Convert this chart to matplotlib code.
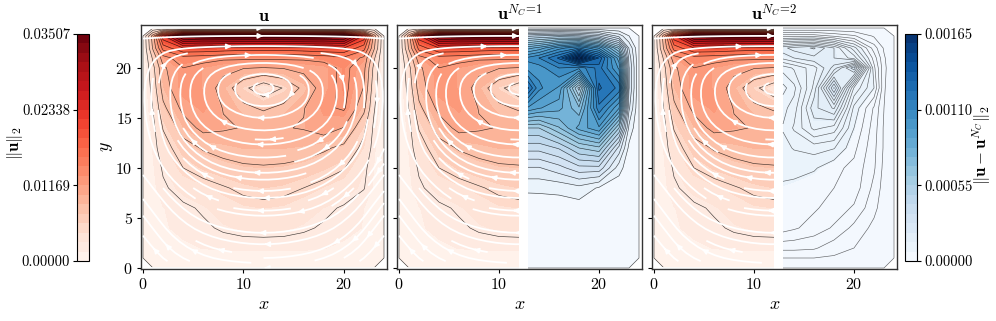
import matplotlib
matplotlib.use('Agg')
import matplotlib.pyplot as plt
from matplotlib.patches import Rectangle
import numpy as np

plt.rcParams['mathtext.fontset'] = 'cm'
plt.rcParams['font.family'] = ['cmr10', 'DejaVu Serif']
plt.rcParams['axes.formatter.use_mathtext'] = True

nan = np.nan

# grid of the magnitude / error fields
x_nodes = [0, 1, 2, 4, 6, 8, 10, 12, 14, 16, 18, 20, 22, 23, 24]
x_err = [12.9, 14, 16, 18, 20, 22, 23, 24]
y_nodes = [0, 1, 2, 4, 6, 8, 10, 12, 14, 16, 18, 20, 21, 22, 23.2, 24]

# velocity magnitude, 1e-3 units, bottom row first
mag = [
    [nan, 0, 0, 0, 0, 0, 0, 0, 0, 0, 0, 0, 0, 0, nan],
    [0, .17, .35, .6, .8, .85, .85, .85, .85, .85, .8, .6, .35, .17, 0],
    [0, .4, .85, 1.2, 1.5, 1.65, 1.7, 1.7, 1.7, 1.65, 1.5, 1.2, .85, .4, 0],
    [0, .7, 1.3, 1.8, 2.2, 2.75, 3.1, 3.2, 3.1, 2.75, 2.3, 1.9, 1.4, .7, 0],
    [0, .8, 1.4, 2.15, 2.75, 3.6, 4.2, 4.4, 4.2, 3.6, 2.9, 2.3, 1.45, .8, 0],
    [0, 1.1, 2.2, 3.35, 4.1, 4.8, 5.5, 5.85, 5.6, 5, 4.3, 3.6, 2.6, 1.2, 0],
    [0, 1.3, 2.75, 5, 6, 6.7, 7.15, 7.3, 7.15, 6.7, 6, 5.15, 3, 1.4, 0],
    [0, 1.55, 3.9, 6.45, 7.75, 8.4, 8.8, 8.8, 8.8, 8.6, 7.9, 6.9, 4.3, 1.7, 0],
    [0, 1.9, 5.15, 8.6, 10.75, 10.3, 9.9, 10, 9.9, 10.15, 11.2, 9.9, 5.6, 2.05, 0],
    [0, 2.6, 6.9, 10.75, 12, 9.9, 8.2, 7.1, 8.2, 9.9, 12, 12.9, 8.2, 2.75, 0],
    [0, 3.45, 8.6, 12.5, 11.6, 9, 5.6, 3.3, 5.15, 8.2, 11.2, 13.3, 9.9, 3.45, 0],
    [0, 4.3, 9.5, 12.5, 11.6, 10.75, 10.15, 9.9, 10.15, 10.75, 11.2, 13.3, 10.75, 4.3, 0],
    [0, 5.5, 11.5, 14, 13.5, 13, 13, 13, 13, 13, 13.5, 14.5, 12, 5.5, 0],
    [0, 8, 16, 20, 20, 19.5, 19, 19, 19, 19.5, 20, 20, 16, 8, 0],
    [0, 9, 22, 34, 35, 35.07, 35.07, 35.07, 35, 35, 35, 34, 22, 9, 0],
    [nan, 0, 0, 0, 0, 0, 0, 0, 0, 0, 0, 0, 0, 0, nan],
]

# error with one cluster, 1e-3 units
err_one = [
    [0, 0, 0, 0, 0, 0, 0, nan],
    [.002, .002, .002, .002, .002, .002, .001, 0],
    [.004, .004, .004, .004, .004, .004, .002, 0],
    [.01, .012, .015, .02, .02, .015, .005, 0],
    [.02, .025, .03, .035, .03, .012, .005, 0],
    [.085, .085, .09, .115, .06, .02, .005, 0],
    [.2, .2, .25, .32, .32, .1, .02, 0],
    [.37, .37, .42, .55, .6, .25, .05, 0],
    [.55, .55, .68, .85, .95, .55, .12, 0],
    [.95, .9, .85, .70, 1.15, .9, .22, 0],
    [1.25, 1.05, .95, .45, 1.25, 1.15, .28, 0],
    [1.0, 1.0, 1.1, 1.05, 1.2, .95, .28, 0],
    [1.05, 1.1, 1.25, 1.65, 1.3, .85, .25, 0],
    [.8, .85, 1.0, 1.1, .95, .6, .2, 0],
    [.4, .42, .45, .42, .35, .18, .07, 0],
    [0, 0, 0, 0, 0, 0, 0, nan],
]

# error with two clusters, 1e-3 units
err_two = [
    [0, 0, 0, 0, 0, 0, 0, nan],
    [.014, .014, .014, .012, .008, .003, .001, 0],
    [.032, .032, .03, .02, .014, .005, .002, 0],
    [.062, .058, .05, .04, .024, .01, .003, 0],
    [.064, .062, .058, .05, .04, .018, .006, 0],
    [.068, .066, .06, .056, .05, .024, .008, 0],
    [.074, .075, .072, .06, .052, .03, .01, 0],
    [.08, .085, .09, .085, .06, .032, .012, 0],
    [.085, .10, .13, .12, .07, .035, .012, 0],
    [.08, .09, .15, .17, .08, .04, .014, 0],
    [.065, .08, .13, .24, .11, .07, .016, 0],
    [.09, .10, .12, .16, .22, .06, .018, 0],
    [.13, .14, .15, .14, .12, .05, .016, 0],
    [.15, .16, .17, .14, .09, .035, .012, 0],
    [.05, .05, .05, .04, .03, .012, .004, 0],
    [0, 0, 0, 0, 0, 0, 0, nan],
]

# velocity on a uniform grid for the streamlines
x_flow = [0, 2, 4, 6, 8, 10, 12, 14, 16, 18, 20, 22, 24]
y_flow = [0, 2, 4, 6, 8, 10, 12, 14, 16, 18, 20, 22, 24]
u_flow = [
    [0, -.2, -.3, -.4, -.5, -.5, -.5, -.5, -.5, -.4, -.3, -.2, 0],
    [0, -.6, -1.3, -1.9, -2.4, -2.6, -2.7, -2.6, -2.4, -1.9, -1.3, -.6, 0],
    [0, -1, -2.2, -3.2, -4, -4.2, -4.4, -4.2, -4, -3.2, -2.2, -1, 0],
    [0, -1.5, -3.2, -4.5, -5.5, -6, -6, -6, -5.5, -4.5, -3.2, -1.5, 0],
    [0, -2, -4, -5.5, -7, -7.5, -8, -7.5, -7, -5.5, -4, -2, 0],
    [0, -2, -4.5, -6.5, -8, -9, -9.5, -9, -8, -6.5, -4.5, -2, 0],
    [0, -1.5, -4.5, -7, -9, -10, -10.5, -10, -9, -7, -4.5, -1.5, 0],
    [0, -1, -4, -7, -9, -10, -10.5, -10, -9, -7, -4, -1, 0],
    [0, -.5, -2, -4, -6, -7, -7, -7, -6, -4, -2, -.5, 0],
    [0, .5, 1, 1, .5, .2, 0, .2, .5, 1, 1, .5, 0],
    [0, 3, 6, 8, 9, 9, 8, 9, 9, 8, 6, 3, 0],
    [0, 6, 16, 20, 22, 23, 23, 23, 22, 20, 16, 6, 0],
    [0, 20, 30, 33, 34, 35, 35, 35, 34, 33, 30, 20, 0],
]
v_flow = [
    [0, 0, 0, 0, 0, 0, 0, 0, 0, 0, 0, 0, 0],
    [0, .7, .9, .8, .5, .3, 0, -.3, -.5, -.8, -.9, -.7, 0],
    [0, 1.3, 1.8, 1.4, 1, .5, 0, -.5, -1, -1.4, -1.8, -1.3, 0],
    [0, 2, 2.7, 2.2, 1.4, .7, 0, -.7, -1.4, -2.2, -2.7, -2, 0],
    [0, 2.5, 3.5, 3, 2, 1, 0, -1, -2, -3, -3.5, -2.5, 0],
    [0, 3, 4.5, 3.8, 2.5, 1.2, 0, -1.2, -2.5, -3.8, -4.5, -3, 0],
    [0, 4, 5.5, 5, 3, 1.5, 0, -1.5, -3, -5, -5.5, -4, 0],
    [0, 5, 7, 6, 4, 2, 0, -2, -4, -6, -7, -5, 0],
    [0, 6, 9, 8, 5, 2.5, 0, -2.5, -5, -8, -9, -6, 0],
    [0, 8, 10, 9, 6, 3, 0, -3, -6, -9, -10, -8, 0],
    [0, 7, 6, 5, 3, 1.5, 0, -1.5, -3, -5, -6, -7, 0],
    [0, 1.5, 1.5, 1, .6, .3, 0, -.3, -.6, -1, -1.5, -1.5, 0],
    [0, 0, 0, 0, 0, 0, 0, 0, 0, 0, 0, 0, 0],
]

u_ticks = [0, 11.69, 23.38, 35.07]
u_ticklabels = ['0.00000', '0.01169', '0.02338', '0.03507']
err_ticks = [0, 0.55, 1.10, 1.65]
err_ticklabels = ['0.00000', '0.00055', '0.00110', '0.00165']
titles = [r'$\mathbf{u}$', r'$\mathbf{u}^{N_C\!=\!1}$', r'$\mathbf{u}^{N_C\!=\!2}$']

W, H = 996, 321


def px_axes(left, right, top, bottom):
    return fig.add_axes([left / W, 1 - bottom / H, (right - left) / W, (bottom - top) / H])


mag = np.ma.masked_invalid(np.array(mag))
err_one = np.ma.masked_invalid(np.array(err_one))
err_two = np.ma.masked_invalid(np.array(err_two))
red_levels = np.linspace(0, 35.07, 25)
red_lines = np.linspace(0, 35.07, 15)
blue_levels = np.linspace(0, 1.65, 25)

fig = plt.figure(figsize=(W / 100, H / 100), dpi=100)
axes = [px_axes(141, 387, 25, 269), px_axes(397, 642, 25, 269), px_axes(652, 897, 25, 269)]

for i, ax in enumerate(axes):
    if i == 0:
        x_red, z_red = x_nodes, mag
    else:
        x_red, z_red = x_nodes[:8], mag[:, :8]
    cf_red = ax.contourf(x_red, y_nodes, z_red, levels=red_levels, cmap='Reds', vmin=0, vmax=35.07)
    ax.contour(x_red, y_nodes, z_red, levels=red_lines, colors='k', linewidths=0.45, alpha=0.75)

    sp = ax.streamplot(np.array(x_flow), np.array(y_flow), np.array(u_flow), np.array(v_flow),
                       color='white', linewidth=1.3, density=0.85, arrowsize=0.7)
    if i > 0:
        clip = Rectangle((-1, -1), 13.05, 27, transform=ax.transData)
        sp.lines.set_clip_path(clip)
        for p in ax.patches:
            p.set_clip_path(clip)

    ax.set_xlim(-0.2, 24.3)
    ax.set_ylim(-0.1, 24.3)
    ax.set_xticks([0, 10, 20])
    ax.set_yticks([0, 5, 10, 15, 20])
    ax.tick_params(labelsize=11.5, length=3, width=0.8, pad=3)
    ax.set_xlabel('$x$', fontsize=13, labelpad=3)
    ax.set_title(titles[i], fontsize=13, pad=3)
    if i > 0:
        ax.tick_params(labelleft=False)
    for s in ax.spines.values():
        s.set_linewidth(1.0)
        s.set_color('#333333')

axes[0].set_ylabel('$y$', fontsize=13, labelpad=0)

cf_blue = axes[1].contourf(x_err, y_nodes, err_one, levels=blue_levels, cmap='Blues', vmin=0, vmax=1.65)
axes[1].contour(x_err, y_nodes, err_one, levels=blue_levels, colors='k', linewidths=0.45, alpha=0.7)
axes[2].contourf(x_err, y_nodes, err_two, levels=blue_levels, cmap='Blues', vmin=0, vmax=1.65)
axes[2].contour(x_err, y_nodes, err_two, levels=np.linspace(0, 0.252, 19), colors='k',
                linewidths=0.45, alpha=0.6)

# colorbars
cax_left = px_axes(77, 89, 34, 261)
cb = fig.colorbar(cf_red, cax=cax_left, ticks=u_ticks)
cax_left.yaxis.set_ticks_position('left')
cb.set_ticklabels(u_ticklabels)
cb.ax.tick_params(labelsize=10.5, length=3, width=0.8, pad=2)
cb.outline.set_linewidth(0.8)
fig.text(15 / W, 1 - 143 / H, r'$\|\mathbf{u}\|_2$', rotation=90, fontsize=12, ha='center', va='center')

cax_right = px_axes(905, 917, 34, 261)
cb2 = fig.colorbar(cf_blue, cax=cax_right, ticks=err_ticks)
cb2.set_ticklabels(err_ticklabels)
cb2.ax.tick_params(labelsize=10.5, length=3, width=0.8, pad=2)
cb2.outline.set_linewidth(0.8)
fig.text(982 / W, 1 - 145 / H, r'$\|\mathbf{u}-\mathbf{u}^{N_C}\|_2$', rotation=90, fontsize=12,
         ha='center', va='center')

fig.savefig('out.png', dpi=100)
